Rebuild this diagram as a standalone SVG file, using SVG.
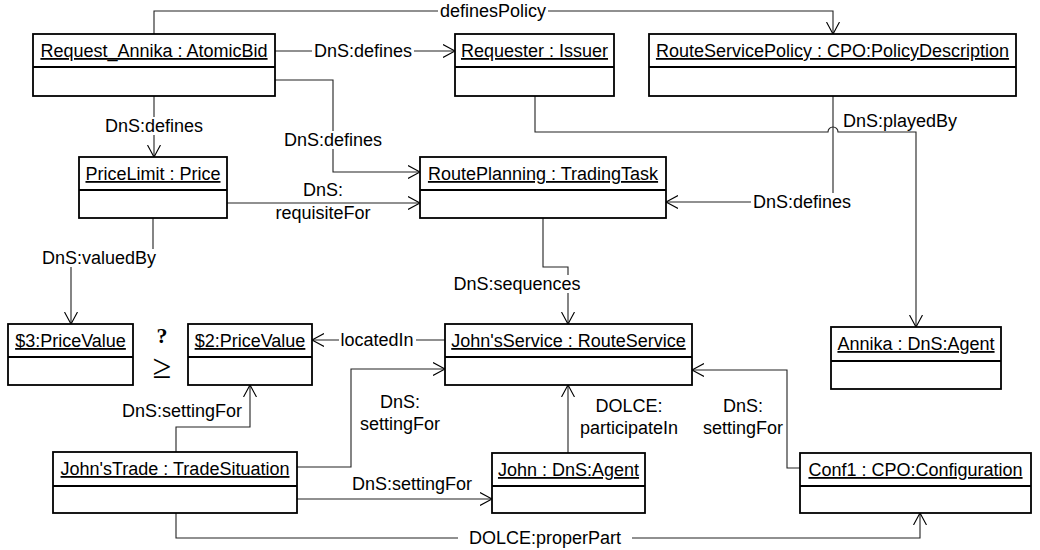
<svg xmlns="http://www.w3.org/2000/svg" width="1040" height="550" viewBox="0 0 1040 550">
  <style>
    .box { fill: #fff; stroke: #000; stroke-width: 1.8; }
    .div { stroke: #000; stroke-width: 1.8; }
    .name { font-family: "Liberation Sans", Arial, sans-serif; font-size: 18px; fill: #000; text-anchor: middle; text-decoration: underline; }
    .edge { fill: none; stroke: #222; stroke-width: 1.1; }
    .lbl { font-family: "Liberation Sans", Arial, sans-serif; font-size: 18px; fill: #000; text-anchor: middle; }
    .bg { fill: #fff; stroke: none; }
  </style>
  <defs>
    <marker id="open" markerWidth="14" markerHeight="14" refX="12" refY="7" orient="auto" markerUnits="userSpaceOnUse">
      <path d="M0,0.5 L12,7 L0,13.5" fill="none" stroke="#000" stroke-width="1.1"/>
    </marker>
  </defs>
  <rect width="1040" height="550" fill="#fff"/>

  <!-- connectors -->
  <g id="connectors">
    <path class="edge" d="M154,34 V11 H833 V34" marker-end="url(#open)"/>
    <path class="edge" d="M275,51 H455" marker-end="url(#open)"/>
    <path class="edge" d="M154,96 V157" marker-end="url(#open)"/>
    <path class="edge" d="M275,80 H333 V172 H420" marker-end="url(#open)"/>
    <path class="edge" d="M227,203 H420" marker-end="url(#open)"/>
    <path class="edge" d="M153,218 V258 H71 V324" marker-end="url(#open)"/>
    <path class="edge" d="M535,96 V132 H828 A5,5 0 0 1 838,132 H916 V327" marker-end="url(#open)"/>
    <path class="edge" d="M833,96 V202 H666" marker-end="url(#open)"/>
    <path class="edge" d="M543,218 V267 H568 V324" marker-end="url(#open)"/>
    <path class="edge" d="M445,340 H312" marker-end="url(#open)"/>
    <path class="edge" d="M176,452 V427 H250 V385" marker-end="url(#open)"/>
    <path class="edge" d="M297,467 H351 V369 H445" marker-end="url(#open)"/>
    <path class="edge" d="M297,499 H492" marker-end="url(#open)"/>
    <path class="edge" d="M568,453 V385" marker-end="url(#open)"/>
    <path class="edge" d="M800,468 H787 V370 H692" marker-end="url(#open)"/>
    <path class="edge" d="M176,513 V538 H920 V513" marker-end="url(#open)"/>

    <!-- labels sitting on the lines -->
    <rect class="bg" x="438" y="2" width="110" height="18"/>
    <text class="lbl" x="493" y="17">definesPolicy</text>
    <rect class="bg" x="312" y="42" width="102" height="18"/>
    <text class="lbl" x="363" y="57">DnS:defines</text>
    <rect class="bg" x="103" y="117" width="102" height="18"/>
    <text class="lbl" x="154" y="132">DnS:defines</text>
    <rect class="bg" x="282" y="131" width="102" height="18"/>
    <text class="lbl" x="333" y="146">DnS:defines</text>
    <rect class="bg" x="40" y="249" width="118" height="18"/>
    <text class="lbl" x="99" y="264">DnS:valuedBy</text>
    <rect class="bg" x="452" y="275" width="131" height="18"/>
    <text class="lbl" x="517" y="290">DnS:sequences</text>
    <rect class="bg" x="339" y="331" width="77" height="18"/>
    <text class="lbl" x="377" y="346">locatedIn</text>
    <rect class="bg" x="751" y="193" width="102" height="18"/>
    <text class="lbl" x="802" y="208">DnS:defines</text>
    <rect class="bg" x="458" y="529" width="174" height="18"/>
    <text class="lbl" x="545" y="544">DOLCE:properPart</text>

    <!-- labels beside the lines -->
    <text class="lbl" x="323" y="196">DnS:</text>
    <text class="lbl" x="323" y="219">requisiteFor</text>
    <text class="lbl" x="843" y="127" style="text-anchor:start">DnS:playedBy</text>
    <text class="lbl" x="182" y="417">DnS:settingFor</text>
    <text class="lbl" x="400" y="408">DnS:</text>
    <text class="lbl" x="400" y="430">settingFor</text>
    <text class="lbl" x="412" y="490">DnS:settingFor</text>
    <text class="lbl" x="629" y="412">DOLCE:</text>
    <text class="lbl" x="629" y="434">participateIn</text>
    <text class="lbl" x="743" y="412">DnS:</text>
    <text class="lbl" x="743" y="434">settingFor</text>
  </g>

  <!-- nodes -->
  <g id="request_annika">
    <rect class="box" x="33" y="34" width="242" height="62"/>
    <line class="div" x1="33" y1="67" x2="275" y2="67"/>
    <text class="name" x="154" y="57">Request_Annika : AtomicBid</text>
  </g>
  <g id="requester">
    <rect class="box" x="455" y="34" width="159" height="62"/>
    <line class="div" x1="455" y1="67" x2="614" y2="67"/>
    <text class="name" x="534.5" y="57">Requester : Issuer</text>
  </g>
  <g id="route_service_policy">
    <rect class="box" x="649" y="34" width="367" height="62"/>
    <line class="div" x1="649" y1="67" x2="1016" y2="67"/>
    <text class="name" x="832.5" y="57">RouteServicePolicy : CPO:PolicyDescription</text>
  </g>
  <g id="price_limit">
    <rect class="box" x="79" y="157" width="148" height="61"/>
    <line class="div" x1="79" y1="190" x2="227" y2="190"/>
    <text class="name" x="153" y="180">PriceLimit : Price</text>
  </g>
  <g id="route_planning">
    <rect class="box" x="420" y="157" width="246" height="61"/>
    <line class="div" x1="420" y1="190" x2="666" y2="190"/>
    <text class="name" x="543" y="180">RoutePlanning : TradingTask</text>
  </g>
  <g id="price_value_3">
    <rect class="box" x="8" y="324" width="125" height="61"/>
    <line class="div" x1="8" y1="357" x2="133" y2="357"/>
    <text class="name" x="70.5" y="347">$3:PriceValue</text>
  </g>
  <g id="comparison">
    <text x="162" y="343" font-family="Liberation Serif, serif" font-size="22" font-weight="bold" text-anchor="middle">?</text>
    <text x="162" y="378" font-family="Liberation Serif, serif" font-size="34" text-anchor="middle">≥</text>
  </g>
  <g id="price_value_2">
    <rect class="box" x="188" y="324" width="124" height="61"/>
    <line class="div" x1="188" y1="357" x2="312" y2="357"/>
    <text class="name" x="250" y="347">$2:PriceValue</text>
  </g>
  <g id="johns_service">
    <rect class="box" x="445" y="324" width="247" height="61"/>
    <line class="div" x1="445" y1="357" x2="692" y2="357"/>
    <text class="name" x="568.5" y="347">John'sService : RouteService</text>
  </g>
  <g id="annika">
    <rect class="box" x="831" y="327" width="170" height="62"/>
    <line class="div" x1="831" y1="361" x2="1001" y2="361"/>
    <text class="name" x="916" y="350">Annika : DnS:Agent</text>
  </g>
  <g id="johns_trade">
    <rect class="box" x="53" y="452" width="244" height="61"/>
    <line class="div" x1="53" y1="486" x2="297" y2="486"/>
    <text class="name" x="175" y="475">John'sTrade : TradeSituation</text>
  </g>
  <g id="john">
    <rect class="box" x="492" y="453" width="153" height="60"/>
    <line class="div" x1="492" y1="486" x2="645" y2="486"/>
    <text class="name" x="568.5" y="476">John : DnS:Agent</text>
  </g>
  <g id="conf1">
    <rect class="box" x="800" y="453" width="231" height="60"/>
    <line class="div" x1="800" y1="486" x2="1031" y2="486"/>
    <text class="name" x="915.5" y="476">Conf1 : CPO:Configuration</text>
  </g>
</svg>
